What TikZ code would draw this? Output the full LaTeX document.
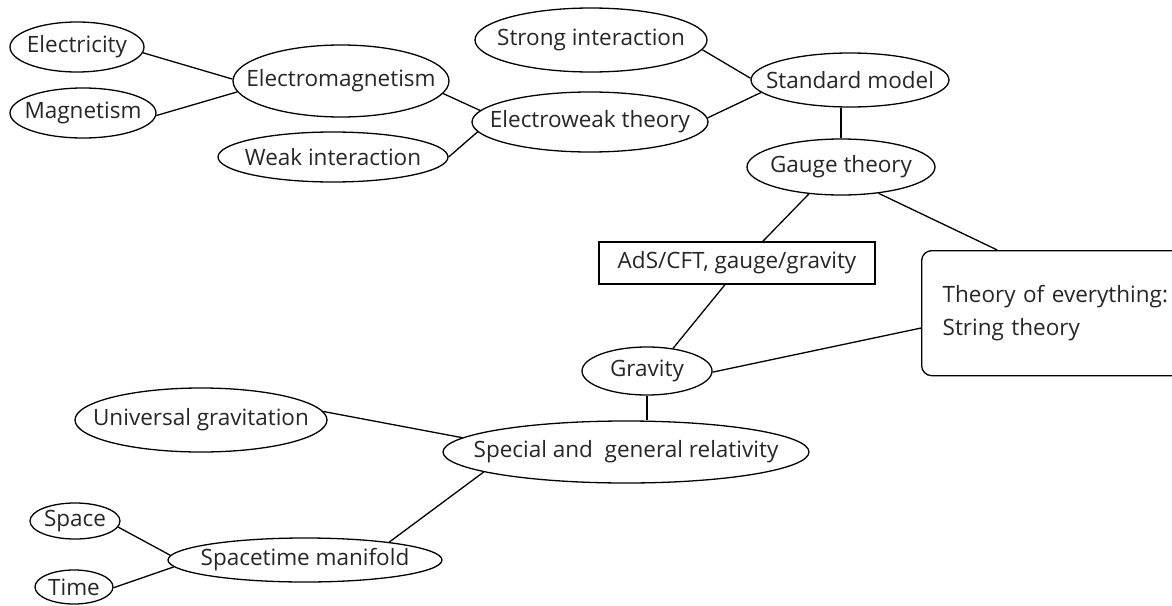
\documentclass[tikz,border=0pt]{standalone}
\usepackage{fontspec}
\setmainfont{Open Sans}
\usetikzlibrary{shapes.geometric}
\newcommand{\tight}[1]{\makebox[0pt]{#1}}
\tikzset{
  bubble/.style 2 args={ellipse, draw, inner sep=0pt, minimum width=#1pt, minimum height=#2pt},
  tag/.style={rectangle, draw, inner sep=0pt, minimum width=276pt, minimum height=42pt},
  toebox/.style={rectangle, draw, rounded corners=10pt, inner xsep=21pt, text width=240pt,
    align=left, minimum height=125pt, font=\fontsize{22.5pt}{33pt}\selectfont},
  every node/.style={font=\fontsize{22.5pt}{29pt}\selectfont, text=black!85}
}
\begin{document}
\begin{tikzpicture}[x=1pt,y=-1pt,line width=1.3pt]
    \path[use as bounding box] (0,0) rectangle (1172,605);
    \clip (0,0) rectangle (1172,605);
    % electromagnetism branch
    \node[bubble={134}{50}] (elec) at (77,47) {\tight{Electricity}};
    \node[bubble={146}{50}] (mag) at (83,113) {\tight{Magnetism}};
    \node[bubble={216}{72}] (em) at (341,81) {\tight{Electromagnetism}};
    \node[bubble={230}{50}] (weak) at (333,157) {\tight{Weak interaction}};
    \node[bubble={232}{64}] (strong) at (591,40) {\tight{Strong interaction}};
    \node[bubble={236}{60}] (ew) at (590,122) {\tight{Electroweak theory}};
    \node[bubble={198}{54}] (sm) at (850,80) {\tight{Standard model}};
    \node[bubble={188}{56}] (gauge) at (841,167) {\tight{Gauge theory}};
    % duality and unification
    \node[tag] (ads) at (737,263) {AdS/CFT, gauge/gravity};
    \node[toebox, anchor=north west] (toe) at (921,250) {Theory of everything:\\String theory};
    % gravity branch
    \node[bubble={130}{48}] (grav) at (647,371) {\tight{Gravity}};
    \node[bubble={252}{64}] (ug) at (201,420) {\tight{Universal gravitation}};
    \node[bubble={366}{62}] (sgr) at (626,452) {\tight{Special and\ \ general relativity}};
    \node[bubble={274}{44}] (stm) at (305,560) {\tight{Spacetime manifold}};
    \node[bubble={90}{36}] (space) at (75,521) {\tight{Space}};
    \node[bubble={78}{34}] (time) at (74,587) {\tight{Time}};

    \draw (elec.-5) -- (em.179);
    \draw (mag.-2) -- (em.186);
    \draw (em.-7) -- (ew.174);
    \draw (weak.0) -- (ew.185);
    \draw (strong.-5) -- (sm.179);
    \draw (ew.2) -- (sm.188);
    \draw (gauge.north) -- (gauge.north |- sm.south);
    \draw (gauge.220) -- (ads.40);
    \draw (gauge.-35) -- (toe.136);
    \draw (ads.241) -- (grav.41);
    \draw (grav.-1) -- (toe.186);
    \draw (grav.south) -- (grav.south |- sgr.north);
    \draw (ug.4) -- (sgr.175);
    \draw (sgr.188) -- (stm.12);
    \draw (space.-8) -- (stm.178);
    \draw (time.-1) -- (stm.183);
\end{tikzpicture}
\end{document}
